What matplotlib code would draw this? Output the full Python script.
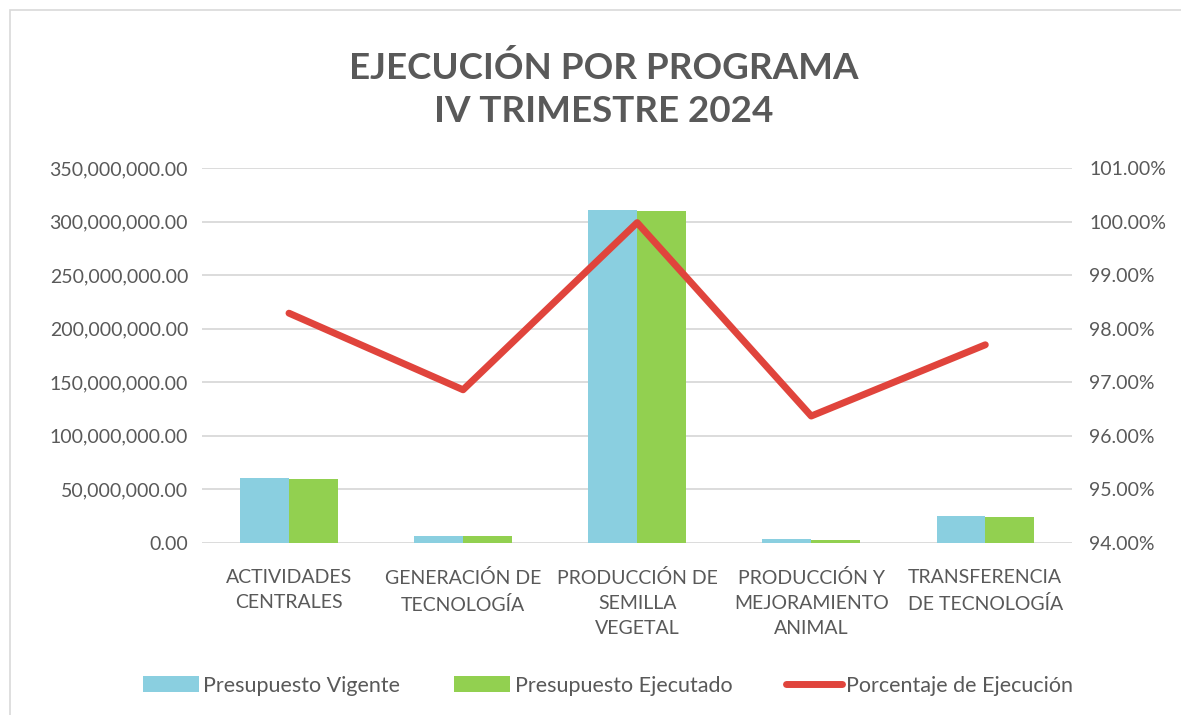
import numpy as np
import matplotlib.pyplot as plt
from matplotlib.ticker import FuncFormatter
from matplotlib.patches import Rectangle

plt.rcParams['font.family'] = ['Lato', 'DejaVu Sans']

# Data
categories = ['ACTIVIDADES\nCENTRALES', 'GENERACIÓN DE\nTECNOLOGÍA',
              'PRODUCCIÓN DE\nSEMILLA\nVEGETAL', 'PRODUCCIÓN Y\nMEJORAMIENTO\nANIMAL',
              'TRANSFERENCIA\nDE TECNOLOGÍA']
vigente = [60.6e6, 6.6e6, 310.8e6, 3.4e6, 25.5e6]
ejecutado = [59.6e6, 6.4e6, 310.3e6, 2.8e6, 24.6e6]
porcentaje = [98.29, 96.86, 99.98, 96.37, 97.70]

gray = '#595959'
grid = '#D9D9D9'

fig = plt.figure(figsize=(11.81, 7.15), dpi=100)
# chart area border
fig.patches.append(Rectangle((10 / 1181, -0.01), 1.02, 1 - 10 / 715 + 0.01,
                             transform=fig.transFigure, fill=False,
                             edgecolor=grid, linewidth=1.2))

ax = fig.add_axes([0.171, 0.2406, 0.737, 0.5244])
x = np.arange(len(categories))
w = 0.28
ax.bar(x - w / 2, vigente, w, color='#8ACFE0', label='Presupuesto Vigente', zorder=2)
ax.bar(x + w / 2, ejecutado, w, color='#92D050', label='Presupuesto Ejecutado', zorder=2)

ax.set_ylim(0, 350e6)
ax.set_yticks(np.arange(0, 350e6 + 1, 50e6))
ax.yaxis.set_major_formatter(FuncFormatter(lambda v, p: f'{v:,.2f}'))
ax.set_xlim(-0.5, len(categories) - 0.5)
ax.set_xticks(x)
ax.set_xticklabels(categories, linespacing=1.55)
ax.grid(axis='y', color=grid, linewidth=1.3, zorder=0)
ax.set_axisbelow(True)
for s in ax.spines.values():
    s.set_visible(False)
ax.tick_params(length=0, labelsize=14, colors=gray, pad=10)
ax.tick_params(axis='x', pad=19)

ax2 = ax.twinx()
ax2.plot(x, porcentaje, color='#E0443C', linewidth=5, solid_capstyle='round',
         label='Porcentaje de Ejecución', zorder=3)
ax2.set_ylim(94, 101)
ax2.set_yticks(np.arange(94, 101.1, 1))
ax2.yaxis.set_major_formatter(FuncFormatter(lambda v, p: f'{v:.2f}%'))
for s in ax2.spines.values():
    s.set_visible(False)
ax2.tick_params(length=0, labelsize=14, colors=gray, pad=12)

fig.text(0.511, 0.875, 'EJECUCIÓN POR PROGRAMA\nIV TRIMESTRE 2024', ha='center', va='center',
         fontsize=26.5, fontweight='bold', color=gray, linespacing=1.35)

h1, l1 = ax.get_legend_handles_labels()
h2, l2 = ax2.get_legend_handles_labels()
fig.legend(h1 + h2, l1 + l2, loc='center', bbox_to_anchor=(0.515, 0.041), ncol=3,
           frameon=False, fontsize=15.5, labelcolor=gray, handlelength=2.6,
           handleheight=0.8, handletextpad=0.2, columnspacing=2.5)

fig.savefig('out.png', dpi=100)
